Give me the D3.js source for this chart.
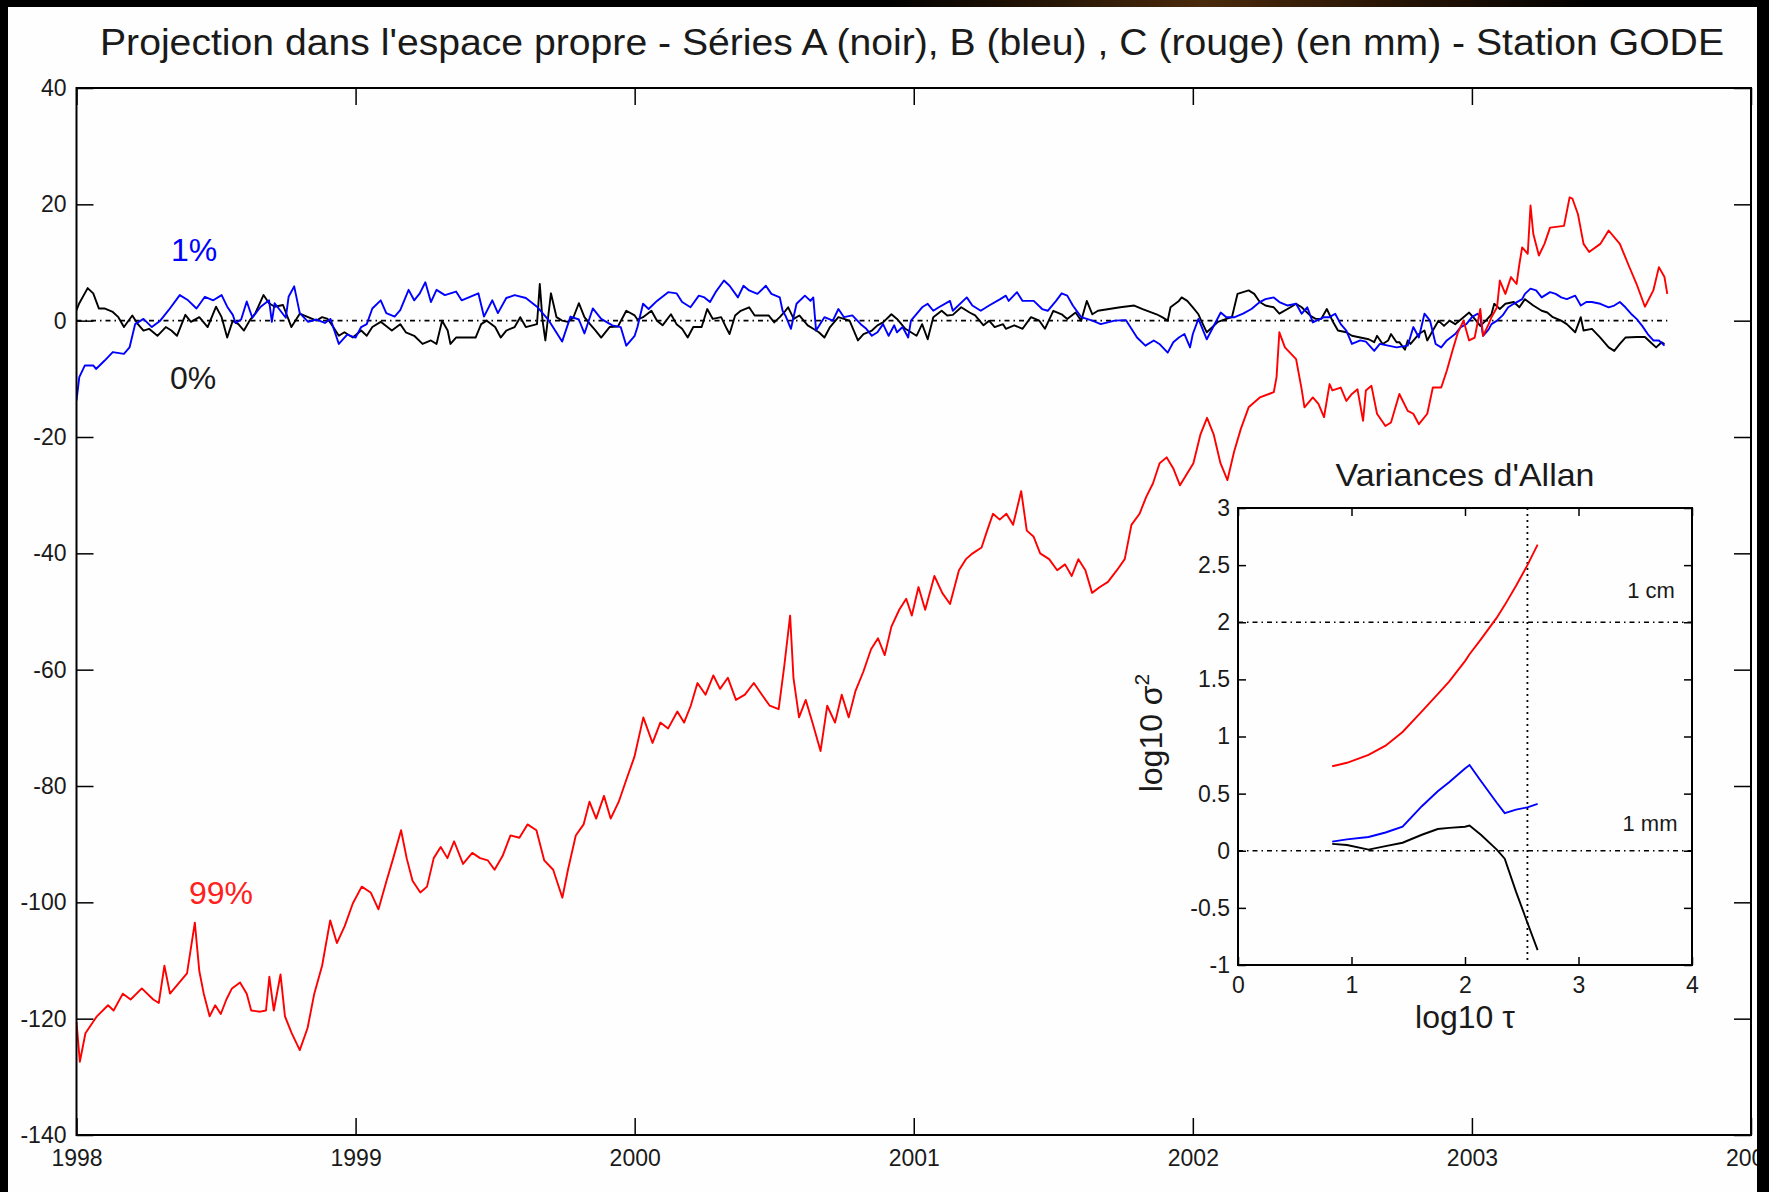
<!doctype html>
<html lang="fr">
<head>
<meta charset="utf-8"/>
<title>Projection dans l'espace propre - Station GODE</title>
<script src="https://d3js.org/d3.v7.min.js"></script>
<style>
  body { margin: 0; background: #000; }
  svg text { font-family: "Liberation Sans", Arial, Helvetica, sans-serif; fill: #1a1a1a; }
</style>
</head>
<body>
<svg id="fig"></svg>
<script>
// ---- main plot : projection of the three series (mm) ----
var yearTicks = [1998, 1999, 2000, 2001, 2002, 2003, 2004];
var mmTicks = [-140, -120, -100, -80, -60, -40, -20, 0, 20, 40];

// serie A (noir) - 0%
var serieA_t = [1998.00,1998.01,1998.04,1998.06,1998.08,1998.10,1998.13,1998.15,1998.17,1998.20,1998.22,1998.24,1998.26,1998.29,1998.32,1998.34,1998.36,1998.39,1998.41,1998.44,1998.47,1998.50,1998.52,1998.54,1998.56,1998.58,1998.60,1998.62,1998.64,1998.67,1998.69,1998.71,1998.74,1998.77,1998.80,1998.83,1998.86,1998.88,1998.90,1998.92,1998.94,1998.96,1998.99,
  1999.02,1999.04,1999.06,1999.09,1999.13,1999.16,1999.18,1999.21,1999.24,1999.27,1999.29,1999.31,1999.33,1999.34,1999.36,1999.39,1999.43,1999.45,1999.47,1999.50,1999.52,1999.54,1999.57,1999.59,1999.61,1999.65,1999.66,1999.67,1999.68,1999.70,1999.72,1999.74,1999.76,1999.78,1999.80,1999.82,1999.84,1999.86,1999.88,1999.91,1999.94,1999.97,
  2000.00,2000.01,2000.03,2000.06,2000.08,2000.10,2000.13,2000.15,2000.17,2000.19,2000.21,2000.24,2000.26,2000.28,2000.31,2000.33,2000.34,2000.36,2000.38,2000.41,2000.43,2000.48,2000.50,2000.52,2000.54,2000.55,2000.57,2000.59,2000.62,2000.64,2000.66,2000.68,2000.70,2000.73,2000.75,2000.77,2000.80,2000.82,2000.85,2000.87,2000.89,2000.92,2000.94,2000.97,2000.99,
  2001.01,2001.03,2001.05,2001.07,2001.10,2001.12,2001.14,2001.17,2001.20,2001.22,2001.25,2001.27,2001.29,2001.32,2001.33,2001.36,2001.39,2001.42,2001.45,2001.47,2001.50,2001.53,2001.55,2001.58,2001.60,2001.62,2001.64,2001.66,2001.70,2001.74,2001.79,2001.82,2001.87,2001.89,2001.91,2001.92,2001.95,2001.96,2001.98,
  2002.00,2002.02,2002.03,2002.05,2002.09,2002.12,2002.14,2002.16,2002.20,2002.22,2002.24,2002.26,2002.29,2002.31,2002.35,2002.37,2002.39,2002.42,2002.44,2002.46,2002.48,2002.50,2002.52,2002.55,2002.57,2002.60,2002.63,2002.65,2002.66,2002.68,2002.70,2002.71,2002.73,2002.74,2002.76,2002.77,2002.78,2002.81,2002.83,2002.84,2002.86,2002.88,2002.90,2002.92,2002.94,2002.97,2002.99,
  2003.01,2003.03,2003.05,2003.07,2003.08,2003.10,2003.12,2003.15,2003.17,2003.19,2003.22,2003.25,2003.27,2003.29,2003.32,2003.34,2003.37,2003.39,2003.40,2003.43,2003.46,2003.49,2003.51,2003.53,2003.55,2003.59,2003.62,2003.64,2003.66,2003.68,2003.69];
var serieA_mm = [1.8,3.0,5.6,4.7,2.1,2.1,1.5,0.6,-1.1,0.9,-0.6,-1.7,-1.4,-2.6,-1.1,-1.7,-2.6,1.0,-0.2,0.6,-1.1,2.4,0.6,-2.9,0,-0.6,-1.7,0,1.2,4.4,3.0,2.4,2.7,-1.1,1.2,0.6,0,0.6,0.3,-1.1,-2.6,-2.0,-2.9,
  -1.7,-2.6,-1.1,-0.2,-1.7,-0.6,-2.0,-2.6,-4.0,-3.4,-4.0,0,-1.7,-4.0,-2.9,-2.9,-2.9,-0.6,0,-1.1,-2.9,-1.7,-1.1,0.6,-1.1,-0.6,6.3,0,-3.4,4.7,0.6,0,-0.2,0.5,3.0,0.6,-0.6,-1.7,-2.9,-1.1,-1.0,1.7,
  0.9,0.2,0.6,1.7,0,-0.8,1.1,-0.6,-1.4,-2.9,-1.1,-1.1,2.0,0.3,0.6,-1.4,-2.3,0.9,1.7,2.3,0.9,0.9,-0.3,0.6,1.7,2.3,0.3,0.9,-0.8,-1.4,-2.0,-2.9,-1.1,0.6,0.3,0,-3.4,-2.3,-1.7,-0.8,-0.3,1.1,0.3,-1.4,-2.0,
  -2.6,-0.6,-3.2,0.6,1.7,0.9,1.0,2.3,1.4,0.9,-0.8,0,-1.1,-0.6,-1.4,-0.8,-1.4,0.6,0,-1.4,1.7,1.1,0.3,1.4,0,3.4,1.1,1.7,2.0,2.3,2.6,2.0,1.1,0.6,0,2.3,3.4,4.0,3.4,
  2.3,1.1,0,-2.0,-0.2,0.3,0.6,4.6,5.2,4.6,3.2,2.6,2.3,1.2,2.3,2.9,2.3,0.9,0.3,0.3,2.0,0,-1.7,-2.0,-2.6,-2.9,-3.2,-3.7,-2.6,-4.0,-3.4,-2.3,-3.7,-3.7,-5.0,-3.4,-4.0,-2.3,-1.7,-3.4,-1.7,0,-0.9,0,-0.6,0.6,1.4,
  0.3,-0.9,0,1.1,2.9,2.0,2.9,3.2,2.3,3.7,2.6,1.7,1.4,0.6,0,-0.6,-2.0,0.6,-1.7,-1.4,-2.9,-4.6,-5.2,-4.0,-2.9,-2.8,-2.8,-3.7,-4.6,-3.7,-4.0];

// serie B (bleu) - 1%
var serieB_t = [1998.00,1998.01,1998.03,1998.06,1998.07,1998.10,1998.13,1998.17,1998.19,1998.21,1998.24,1998.27,1998.30,1998.33,1998.37,1998.40,1998.43,1998.46,1998.49,1998.52,1998.54,1998.56,1998.57,1998.59,1998.61,1998.63,1998.66,1998.69,1998.70,1998.71,1998.75,1998.76,1998.78,1998.80,1998.83,1998.86,1998.89,1998.91,1998.94,1998.97,
  1999.00,1999.02,1999.04,1999.06,1999.09,1999.11,1999.14,1999.16,1999.19,1999.21,1999.23,1999.25,1999.27,1999.29,1999.32,1999.36,1999.38,1999.41,1999.44,1999.46,1999.49,1999.51,1999.54,1999.57,1999.61,1999.65,1999.69,1999.74,1999.77,1999.80,1999.82,1999.85,1999.88,1999.92,1999.95,1999.97,
  2000.00,2000.01,2000.03,2000.05,2000.08,2000.12,2000.15,2000.17,2000.20,2000.23,2000.25,2000.27,2000.29,2000.32,2000.34,2000.37,2000.39,2000.41,2000.44,2000.47,2000.49,2000.52,2000.53,2000.54,2000.56,2000.58,2000.61,2000.63,2000.64,2000.65,2000.68,2000.71,2000.73,2000.75,2000.78,2000.81,2000.83,2000.85,2000.87,2000.89,2000.91,2000.93,2000.94,2000.96,2000.98,2000.99,
  2001.03,2001.05,2001.07,2001.09,2001.13,2001.14,2001.19,2001.21,2001.24,2001.27,2001.31,2001.33,2001.34,2001.37,2001.39,2001.43,2001.46,2001.48,2001.51,2001.53,2001.55,2001.57,2001.60,2001.64,2001.67,2001.72,2001.76,2001.80,2001.83,2001.86,2001.88,2001.91,2001.93,2001.95,2001.97,2001.99,
  2002.00,2002.02,2002.05,2002.10,2002.12,2002.15,2002.18,2002.21,2002.24,2002.26,2002.29,2002.31,2002.34,2002.37,2002.39,2002.41,2002.43,2002.47,2002.49,2002.51,2002.53,2002.55,2002.57,2002.60,2002.62,2002.65,2002.67,2002.70,2002.73,2002.77,2002.79,2002.81,2002.83,2002.85,2002.87,2002.89,2002.91,2002.94,2002.96,2002.98,
  2003.00,2003.02,2003.03,2003.04,2003.06,2003.07,2003.09,2003.11,2003.13,2003.15,2003.18,2003.19,2003.21,2003.23,2003.25,2003.28,2003.30,2003.32,2003.34,2003.37,2003.39,2003.41,2003.43,2003.46,2003.49,2003.51,2003.53,2003.55,2003.57,2003.59,2003.61,2003.63,2003.65,2003.67,2003.69];
var serieB_mm = [-13.7,-9.7,-7.7,-7.7,-8.3,-6.9,-5.4,-5.7,-4.6,-0.6,0.3,-1.1,0,1.8,4.4,3.5,2.1,4.1,3.5,4.4,2.4,1.0,-0.4,0.2,3.3,0.5,2.4,3.5,-0.2,3.0,0.5,4.1,5.9,1.3,-0.2,0.2,-0.4,0.3,-4.0,-2.4,
  -2.9,-1.1,-0.6,2.1,3.5,1.3,0.7,1.8,5.3,3.5,4.7,6.6,3.2,5.3,4.4,5.0,3.5,4.1,4.7,0.7,3.5,1.3,3.9,4.4,3.9,2.4,0.2,-3.6,0.7,0.2,-2.2,2.1,0.3,-0.8,-1.1,-4.3,
  -2.6,-1.1,2.9,2.0,3.4,4.9,4.7,3.2,2.3,4.3,4.0,3.2,4.9,6.9,6.0,4.0,6.0,5.2,4.6,6.0,4.6,4.0,1.7,0.9,-1.4,2.9,4.3,3.4,4.0,-1.7,0.6,0,2.0,0.6,0.9,-0.6,-1.4,-2.6,-2.0,-0.6,-2.6,-0.8,-2.0,-1.1,-2.9,0,
  2.3,2.9,1.7,2.3,3.4,1.7,4.0,2.6,1.7,2.6,3.7,4.3,3.4,4.9,3.4,3.4,2.0,1.7,3.4,4.7,4.3,2.6,0.6,0,-0.6,0,0.1,-2.9,-4.3,-3.4,-4.0,-5.5,-3.7,-2.9,-2.3,-4.6,
  -2.3,0.3,-3.2,1.4,0.6,0.6,1.2,2.0,3.2,3.7,4.0,3.2,2.6,2.9,1.2,2.3,-0.3,0.6,0.6,1.2,-0.6,-1.7,-4.0,-3.4,-3.6,-5.2,-4.0,-4.3,-4.6,-4.3,-1.1,-2.9,1.2,0,-4.0,-4.6,-3.4,-2.3,-1.1,-0.6,
  0.6,1.2,0.6,-2.6,-1.5,-0.6,0,0.9,2.3,2.9,3.7,4.6,5.5,5.2,4.0,4.9,4.6,4.0,3.7,4.3,2.6,3.2,3.2,2.9,2.3,2.6,3.2,2.3,1.2,0.3,-0.9,-2.3,-3.4,-3.4,-4.3];

// serie C (rouge) - 99%
var serieC_t = [1998.000,1998.012,1998.032,1998.073,1998.113,1998.133,1998.166,1998.194,1998.234,1998.275,1998.295,1998.315,1998.335,1998.368,1998.396,1998.424,1998.440,1998.456,1998.477,1998.497,1998.517,1998.537,1998.557,1998.586,1998.610,1998.626,1998.658,1998.679,1998.691,1998.707,1998.731,1998.747,1998.771,1998.800,1998.828,1998.852,1998.880,1998.909,1998.933,1998.961,1998.990,
  1999.022,1999.054,1999.082,1999.111,1999.135,1999.163,1999.183,1999.204,1999.232,1999.256,1999.280,1999.305,1999.329,1999.353,1999.385,1999.418,1999.446,1999.474,1999.498,1999.527,1999.555,1999.587,1999.616,1999.648,1999.676,1999.708,1999.741,1999.761,1999.789,1999.817,1999.838,1999.862,1999.890,1999.914,1999.943,1999.971,1999.999,
  2000.031,2000.064,2000.092,2000.120,2000.153,2000.177,2000.201,2000.225,2000.254,2000.282,2000.306,2000.334,2000.363,2000.395,2000.427,2000.456,2000.484,2000.516,2000.536,2000.557,2000.569,2000.589,2000.613,2000.637,2000.666,2000.690,2000.718,2000.742,2000.767,2000.791,2000.819,2000.847,2000.872,2000.896,2000.920,2000.948,2000.973,2000.993,
  2001.017,2001.041,2001.074,2001.102,2001.130,2001.162,2001.187,2001.211,2001.243,2001.263,2001.284,2001.308,2001.332,2001.356,2001.385,2001.405,2001.429,2001.453,2001.485,2001.514,2001.542,2001.566,2001.590,2001.615,2001.639,2001.667,2001.696,2001.728,2001.756,2001.780,2001.809,2001.833,2001.857,2001.881,2001.906,2001.930,2001.954,2001.978,
  2002.002,2002.027,2002.051,2002.075,2002.099,2002.124,2002.148,2002.172,2002.20,2002.24,2002.29,2002.30,2002.31,2002.33,2002.37,2002.39,2002.40,2002.43,2002.45,2002.47,2002.49,2002.50,2002.53,2002.55,2002.57,2002.59,2002.61,2002.62,2002.64,2002.66,2002.69,2002.71,2002.74,2002.77,2002.79,2002.81,2002.84,2002.86,2002.89,2002.91,2002.93,2002.95,2002.97,2002.99,
  2003.01,2003.03,2003.04,2003.06,2003.07,2003.09,2003.10,2003.12,2003.14,2003.16,2003.17,2003.18,2003.20,2003.21,2003.22,2003.24,2003.26,2003.28,2003.33,2003.35,2003.36,2003.38,2003.40,2003.42,2003.46,2003.49,2003.53,2003.56,2003.59,2003.62,2003.65,2003.67,2003.69,2003.70];
var serieC_mm = [-120.6,-127.4,-122.5,-119.6,-117.7,-118.6,-115.7,-116.7,-114.8,-116.7,-117.3,-110.9,-115.7,-113.8,-112.2,-103.5,-111.8,-115.7,-119.6,-117.7,-119.2,-116.7,-114.8,-113.8,-115.7,-118.6,-118.8,-118.6,-112.8,-118.6,-112.4,-119.6,-122.5,-125.4,-121.6,-115.7,-110.9,-103.1,-107.0,-104.1,-100.2,
  -97.3,-98.3,-101.2,-96.3,-92.4,-87.6,-92.4,-96.3,-98.3,-97.3,-92.4,-90.5,-92.4,-89.5,-93.4,-91.5,-92.4,-92.8,-94.4,-92.0,-88.5,-88.9,-86.6,-87.6,-92.8,-94.4,-99.2,-94.4,-88.5,-86.6,-82.7,-85.6,-81.7,-85.6,-82.7,-78.8,-75.0,
  -68.2,-72.6,-69.1,-70.1,-67.2,-69.1,-66.2,-62.3,-64.3,-61.0,-63.3,-61.4,-65.2,-64.3,-62.3,-64.3,-66.2,-66.8,-59.4,-50.7,-61.4,-68.2,-65.2,-69.1,-74.0,-66.2,-69.1,-64.3,-68.2,-63.7,-60.4,-56.5,-54.6,-57.5,-52.6,-49.7,-47.8,-50.7,
  -45.8,-49.7,-43.9,-46.8,-48.7,-42.9,-41.0,-40.0,-39.0,-36.1,-33.2,-34.2,-33.2,-35.1,-29.3,-36.1,-37.1,-40.0,-41.0,-42.9,-41.9,-43.9,-41.0,-42.9,-46.8,-45.8,-44.9,-42.9,-41.0,-35.1,-33.2,-30.3,-28.0,-24.5,-23.5,-25.4,-28.3,-26.4,
  -24.5,-19.6,-16.7,-19.6,-24.5,-27.4,-22.5,-18.6,-14.9,-13.2,-12.3,-9.7,-2.0,-4.6,-6.6,-11.8,-14.9,-13.2,-14.3,-16.6,-10.9,-12.0,-11.5,-13.8,-12.6,-11.8,-17.2,-12.0,-11.2,-16.0,-18.1,-17.5,-12.6,-15.5,-16.0,-17.8,-16.0,-11.5,-11.5,-8.6,-5.2,-2.0,0,-3.4,
  -2.9,2.0,-2.6,-0.6,0.6,2.3,6.9,4.6,7.5,6.3,9.7,12.6,11.5,19.8,14.9,11.2,13.2,16.0,16.3,21.2,21.0,18.3,13.2,11.8,13.2,15.5,13.2,9.7,6.3,2.4,5.2,9.2,7.5,4.6];

// ---- inset : variances d'Allan (log10 sigma^2 vs log10 tau) ----
var allanTicksX = [0, 1, 2, 3, 4];
var allanTicksY = [-1, -0.5, 0, 0.5, 1, 1.5, 2, 2.5, 3];
var allanTau = [0.83, 0.96, 1.15, 1.30, 1.45, 1.62, 1.76, 1.86, 2.00, 2.04, 2.14, 2.28, 2.35, 2.45, 2.55, 2.64];
var allanA = [0.06, 0.05, 0.01, 0.04, 0.07, 0.14, 0.19, 0.20, 0.21, 0.22, 0.14, 0.01, -0.07, -0.36, -0.63, -0.87];
var allanB = [0.08, 0.10, 0.12, 0.16, 0.21, 0.39, 0.52, 0.60, 0.72, 0.75, 0.61, 0.42, 0.33, 0.36, 0.38, 0.41];
var allanC = [0.74, 0.77, 0.84, 0.92, 1.04, 1.22, 1.37, 1.48, 1.66, 1.72, 1.85, 2.04, 2.15, 2.32, 2.50, 2.68];
var allanRefLines = [2, 0];   // 1 cm et 1 mm
var allanTauMark = 2.55;

var W = 1769, H = 1192;
var FONT = '"Liberation Sans", Arial, Helvetica, sans-serif';

var svg = d3.select("#fig").attr("width", W).attr("height", H);

// white page
svg.append("rect").attr("x", 0).attr("y", 0).attr("width", W).attr("height", H).attr("fill", "#fefefe");

//Title
svg.append("text")
  .attr("x", 100).attr("y", 55)
  .attr("font-size", 37)
  .attr("textLength", 1624)
  .attr("lengthAdjust", "spacingAndGlyphs")
  .text("Projection dans l'espace propre - Séries A (noir), B (bleu) , C (rouge) (en mm) - Station GODE");

//Scales
var xScale = d3.scaleLinear().domain([1998, 2004]).range([76.5, 1751]);
var yScale = d3.scaleLinear().domain([-140, 40]).range([1135, 88]);

function styleAxis(g, fs) {
  g.attr("font-size", fs).attr("font-family", FONT);
  g.select(".domain").remove();
  g.selectAll(".tick line").attr("stroke", "#000").attr("stroke-width", 1.5);
}

// axes (ticks inward, all four sides)
svg.append("g").attr("transform", "translate(0," + yScale(-140) + ")")
  .call(d3.axisBottom(xScale).tickValues(yearTicks).tickFormat(d3.format("d"))
        .tickSizeInner(-17).tickSizeOuter(0).tickPadding(15))
  .call(styleAxis, 23);
svg.append("g").attr("transform", "translate(0," + yScale(40) + ")")
  .call(d3.axisTop(xScale).tickValues(yearTicks).tickFormat("")
        .tickSizeInner(-17).tickSizeOuter(0))
  .call(styleAxis, 23);
svg.append("g").attr("transform", "translate(" + xScale(1998) + ",0)")
  .call(d3.axisLeft(yScale).tickValues(mmTicks).tickFormat(function(d) { return String(d); })
        .tickSizeInner(-17).tickSizeOuter(0).tickPadding(10))
  .call(styleAxis, 23);
svg.append("g").attr("transform", "translate(" + xScale(2004) + ",0)")
  .call(d3.axisRight(yScale).tickValues(mmTicks).tickFormat("")
        .tickSizeInner(-17).tickSizeOuter(0))
  .call(styleAxis, 23);

// zero line
var lastYear = d3.max([d3.max(serieA_t), d3.max(serieB_t), d3.max(serieC_t)]);
svg.append("line")
  .attr("x1", xScale(1998)).attr("x2", xScale(lastYear))
  .attr("y1", yScale(0)).attr("y2", yScale(0))
  .attr("stroke", "#000").attr("stroke-width", 1.6)
  .attr("stroke-dasharray", "5,4,1.5,4");

svg.append("clipPath").attr("id", "mainclip").append("rect")
  .attr("x", xScale(1998)).attr("y", yScale(40))
  .attr("width", xScale(2004) - xScale(1998)).attr("height", yScale(-140) - yScale(40));

var line = d3.line()
  .x(function(d) { return xScale(d[0]); })
  .y(function(d) { return yScale(d[1]); });

var series = [
  { t: serieA_t, v: serieA_mm, color: "#000" },
  { t: serieB_t, v: serieB_mm, color: "#0000ff" },
  { t: serieC_t, v: serieC_mm, color: "#ff0000" }
];
series.forEach(function(s) {
  svg.append("path")
    .datum(d3.zip(s.t, s.v))
    .attr("clip-path", "url(#mainclip)")
    .attr("fill", "none")
    .attr("stroke", s.color)
    .attr("stroke-width", 1.9)
    .attr("stroke-linejoin", "round")
    .attr("d", line);
});

// box
svg.append("rect")
  .attr("x", xScale(1998)).attr("y", yScale(40))
  .attr("width", xScale(2004) - xScale(1998)).attr("height", yScale(-140) - yScale(40))
  .attr("fill", "none").attr("stroke", "#000").attr("stroke-width", 2);

// percentage labels
svg.append("text").attr("x", 194).attr("y", 261).attr("font-size", 32)
  .attr("text-anchor", "middle").style("fill", "#0000ff").text("1%");
svg.append("text").attr("x", 193).attr("y", 389).attr("font-size", 32)
  .attr("text-anchor", "middle").style("fill", "#1a1a1a").text("0%");
svg.append("text").attr("x", 221).attr("y", 904).attr("font-size", 32)
  .attr("text-anchor", "middle").style("fill", "#ff2020").text("99%");

// ---- inset ----
var ix = d3.scaleLinear().domain([0, 4]).range([1238, 1692]);
var iy = d3.scaleLinear().domain([-1, 3]).range([965, 508]);

svg.append("rect")
  .attr("x", ix(0)).attr("y", iy(3))
  .attr("width", ix(4) - ix(0)).attr("height", iy(-1) - iy(3))
  .attr("fill", "#fefefe");

svg.append("g").attr("transform", "translate(0," + iy(-1) + ")")
  .call(d3.axisBottom(ix).tickValues(allanTicksX).tickFormat(function(d) { return String(d); })
        .tickSizeInner(-8).tickSizeOuter(0).tickPadding(12))
  .call(styleAxis, 23);
svg.append("g").attr("transform", "translate(0," + iy(3) + ")")
  .call(d3.axisTop(ix).tickValues(allanTicksX).tickFormat("")
        .tickSizeInner(-8).tickSizeOuter(0))
  .call(styleAxis, 23);
svg.append("g").attr("transform", "translate(" + ix(0) + ",0)")
  .call(d3.axisLeft(iy).tickValues(allanTicksY).tickFormat(function(d) { return String(d); })
        .tickSizeInner(-8).tickSizeOuter(0).tickPadding(8))
  .call(styleAxis, 23);
svg.append("g").attr("transform", "translate(" + ix(4) + ",0)")
  .call(d3.axisRight(iy).tickValues(allanTicksY).tickFormat("")
        .tickSizeInner(-8).tickSizeOuter(0))
  .call(styleAxis, 23);

// reference lines
allanRefLines.forEach(function(v) {
  svg.append("line")
    .attr("x1", ix(0)).attr("x2", ix(4))
    .attr("y1", iy(v)).attr("y2", iy(v))
    .attr("stroke", "#000").attr("stroke-width", 1.6)
    .attr("stroke-dasharray", "5,4,1.5,4");
});
svg.append("line")
  .attr("x1", ix(allanTauMark)).attr("x2", ix(allanTauMark))
  .attr("y1", iy(3)).attr("y2", iy(-1))
  .attr("stroke", "#000").attr("stroke-width", 1.8)
  .attr("stroke-dasharray", "2,4");

var iline = d3.line()
  .x(function(d) { return ix(d[0]); })
  .y(function(d) { return iy(d[1]); });
[{ v: allanA, color: "#000" }, { v: allanB, color: "#0000ff" }, { v: allanC, color: "#ff0000" }]
  .forEach(function(s) {
    svg.append("path")
      .datum(d3.zip(allanTau, s.v))
      .attr("fill", "none")
      .attr("stroke", s.color)
      .attr("stroke-width", 1.9)
      .attr("d", iline);
  });

svg.append("rect")
  .attr("x", ix(0)).attr("y", iy(3))
  .attr("width", ix(4) - ix(0)).attr("height", iy(-1) - iy(3))
  .attr("fill", "none").attr("stroke", "#000").attr("stroke-width", 2);

svg.append("text").attr("x", 1465).attr("y", 486).attr("font-size", 32)
  .attr("text-anchor", "middle").attr("textLength", 259).attr("lengthAdjust", "spacingAndGlyphs")
  .text("Variances d'Allan");
svg.append("text").attr("x", 1465).attr("y", 1028).attr("font-size", 32)
  .attr("text-anchor", "middle").text("log10 τ");
var yl = svg.append("text").attr("transform", "translate(1162,733) rotate(-90)")
  .attr("font-size", 32).attr("text-anchor", "middle");
yl.append("tspan").text("log10 σ");
yl.append("tspan").attr("font-size", 21).attr("dy", -13).text("2");

svg.append("text").attr("x", 1651).attr("y", 598).attr("font-size", 22)
  .attr("text-anchor", "middle").text("1 cm");
svg.append("text").attr("x", 1650).attr("y", 831).attr("font-size", 22)
  .attr("text-anchor", "middle").text("1 mm");

// ---- dark slide border ----
var defs = svg.append("defs");
var grad = defs.append("linearGradient").attr("id", "glow").attr("x1", "0").attr("x2", "1").attr("y1", "0").attr("y2", "0");
grad.append("stop").attr("offset", "0.5").attr("stop-color", "#000");
grad.append("stop").attr("offset", "0.68").attr("stop-color", "#4a2a0c");
grad.append("stop").attr("offset", "0.78").attr("stop-color", "#2a1606");
grad.append("stop").attr("offset", "0.9").attr("stop-color", "#000");
svg.append("rect").attr("x", 0).attr("y", 0).attr("width", W).attr("height", 7).attr("fill", "url(#glow)");
svg.append("rect").attr("x", 0).attr("y", 0).attr("width", 8).attr("height", H).attr("fill", "#000");
svg.append("rect").attr("x", 1757).attr("y", 0).attr("width", W - 1757).attr("height", H).attr("fill", "#000");
</script>
</body>
</html>
